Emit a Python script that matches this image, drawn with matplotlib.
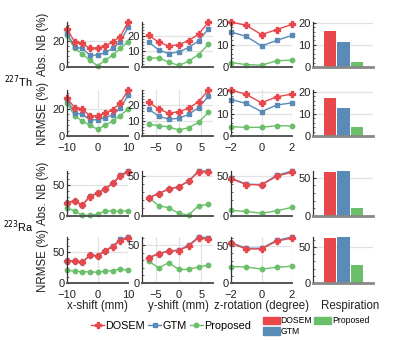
import matplotlib
matplotlib.use("Agg")
import matplotlib.pyplot as plt
from matplotlib.lines import Line2D
from matplotlib.patches import Patch
from matplotlib.ticker import AutoMinorLocator

plt.rcParams['font.family'] = ['Liberation Sans', 'DejaVu Sans']
plt.rcParams['font.size'] = 8

# colours of the three methods
RED, BLUE, GREEN = '#e8474c', '#5a8ab6', '#6cbf6a'

# x positions of the motion experiments
x_shift = [-10, -7.5, -5, -2.5, 0, 2.5, 5, 7.5, 10]
y_shift = [-6.6, -4.4, -2.2, 0, 2.2, 4.4, 6.6]
z_rot = [-2, -1, 0, 1, 2]

# 227Th, Abs. NB (%)
th_nb_x_dosem = [29, 19, 18, 14, 14.5, 16, 19, 23, 34]
th_nb_x_gtm = [26, 15, 14, 9, 9, 11, 14, 19, 30]
th_nb_x_prop = [24, 14, 10, 5, 1, 5, 9, 14, 19]
th_nb_y_dosem = [20.4, 16, 13.5, 14.4, 17, 21, 29]
th_nb_y_gtm = [16, 11, 8.6, 9.7, 12.5, 16.8, 24.7]
th_nb_y_prop = [5.8, 5.8, 3.2, 1, 3.7, 8, 14.6]
th_nb_z_dosem = [20.3, 18.8, 14.6, 16.9, 19.2]
th_nb_z_gtm = [15.8, 13.8, 9.5, 12, 14.3]
th_nb_z_prop = [2, 1.1, 0.8, 2.8, 3.1]
th_nb_resp = [16.4, 11.5, 2.4]

# 227Th, NRMSE (%)
th_rm_x_dosem = [28, 21, 20, 15, 15, 17, 19.5, 24.5, 34]
th_rm_x_gtm = [27, 17, 16, 12, 12, 13.6, 15.6, 20.5, 30]
th_rm_x_prop = [24.5, 15, 11, 8, 5, 8, 11, 15, 20]
th_rm_y_dosem = [22, 17.6, 14.8, 15.9, 18, 22.4, 30]
th_rm_y_gtm = [17.4, 13, 10.9, 11.5, 14.1, 18.5, 26]
th_rm_y_prop = [7.6, 6.7, 6, 3.9, 5.4, 8.9, 15.4]
th_rm_z_dosem = [20.8, 18.8, 15, 17.7, 19]
th_rm_z_gtm = [16.5, 14.7, 11, 14, 15]
th_rm_z_prop = [4.2, 3.9, 3.9, 4.7, 4.5]
th_rm_resp = [17.1, 12.7, 4.1]

# 223Ra, Abs. NB (%)
ra_nb_x_dosem = [21.5, 24.5, 17.5, 31, 37, 43.5, 52.5, 64, 71]
ra_nb_x_gtm = [21.5, 24.5, 17.5, 31.5, 37, 44, 53, 65.5, 72.5]
ra_nb_x_prop = [13.4, 8, 1, 1, 3, 8, 8, 7.5, 8.6]
ra_nb_y_dosem = [22.7, 28, 33.5, 36.4, 43.4, 55, 55]
ra_nb_y_gtm = [22.7, 28, 33.5, 36.4, 43.4, 56, 56]
ra_nb_y_prop = [22.7, 12.8, 10.3, 3.3, 1.2, 12.8, 14.5]
ra_nb_z_dosem = [47, 39.5, 39, 50, 55]
ra_nb_z_gtm = [47.5, 40, 39.5, 51, 56.5]
ra_nb_z_prop = [7, 5.7, 3.5, 6.5, 10.9]
ra_nb_resp = [57.8, 58.7, 10]

# 223Ra, NRMSE (%)
ra_rm_x_dosem = [35.5, 35.5, 33, 44.5, 43.5, 51.5, 58.5, 68, 72.5]
ra_rm_x_gtm = [35.5, 36, 33.5, 45, 44, 52, 59.5, 70, 74]
ra_rm_x_prop = [20.5, 19, 18, 18, 17.4, 19, 20, 22.5, 20.5]
ra_rm_y_dosem = [33.5, 38.8, 42.4, 43, 49, 60, 58]
ra_rm_y_gtm = [33.5, 39, 42.6, 43.5, 50, 61, 60]
ra_rm_y_prop = [29, 20, 27, 18, 18, 21.4, 23.7]
ra_rm_z_dosem = [53, 45.5, 45.5, 56, 60]
ra_rm_z_gtm = [54, 46.5, 46.5, 57, 61.5]
ra_rm_z_prop = [22, 21.4, 18.6, 21, 22.4]
ra_rm_resp = [63, 64, 24.8]

methods = ['DOSEM', 'GTM', 'Proposed']

W, H = 399, 342
fig = plt.figure(figsize=(W / 100, H / 100), dpi=100)


def ax_at(l, t, r, b):
    return fig.add_axes([l / W, 1 - b / H, (r - l) / W, (b - t) / H])


def style(ax, yticks, xgrid):
    for s in ['top', 'right']:
        ax.spines[s].set_visible(False)
    ax.spines['left'].set_color('#333333')
    ax.spines['left'].set_linewidth(0.9)
    ax.spines['bottom'].set_color('#555555')
    ax.spines['bottom'].set_linewidth(1.4)
    ax.set_yticks(yticks)
    ax.yaxis.set_minor_locator(AutoMinorLocator(5))
    ax.tick_params(axis='y', which='major', direction='in', length=2, pad=1.5,
                   labelsize=8, colors='#333333', labelcolor='#222222')
    ax.tick_params(axis='y', which='minor', direction='in', length=1.5, color='#555555')
    ax.tick_params(axis='x', length=0, pad=5, labelsize=8, labelcolor='#222222')
    ax.grid(axis='y', color='#e2e2e2', linewidth=0.9)
    if xgrid:
        ax.grid(axis='x', color='#e2e2e2', linewidth=0.9)
    ax.set_axisbelow(True)


def lines(ax, x, dosem, gtm, prop, xlim, xticks, yticks, show_x, xgrid):
    ax.plot(x, prop, '-o', color=GREEN, lw=1.0, ms=3.2, clip_on=False)
    ax.plot(x, gtm, '-s', color=BLUE, lw=1.0, ms=2.9, clip_on=False)
    ax.plot(x, dosem, '-P', color=RED, lw=1.0, ms=3.8, clip_on=False)
    ax.set_xlim(*xlim)
    ax.set_ylim(0, max(max(dosem), max(gtm), max(prop)))
    ax.set_xticks(xticks)
    if not show_x:
        ax.set_xticklabels([])
    style(ax, yticks, xgrid)


def bars(ax, vals, ytop, yticks):
    ax.bar([0, 1, 2], vals, width=0.92, color=[RED, BLUE, GREEN])
    ax.set_xlim(-1.26, 3.2)
    ax.set_ylim(0, ytop)
    ax.set_xticks([])
    style(ax, yticks, False)
    ax.spines['bottom'].set_color('#888888')
    ax.spines['bottom'].set_linewidth(2)


rows = [(22, 67), (90, 136), (171, 216), (237, 283)]
cols = [(67, 128), (142, 213), (231, 292), (313, 373)]

panels = [
    (th_nb_x_dosem, th_nb_x_gtm, th_nb_x_prop, th_nb_y_dosem, th_nb_y_gtm, th_nb_y_prop,
     th_nb_z_dosem, th_nb_z_gtm, th_nb_z_prop, th_nb_resp, [0, 20], [0, 10, 20], False),
    (th_rm_x_dosem, th_rm_x_gtm, th_rm_x_prop, th_rm_y_dosem, th_rm_y_gtm, th_rm_y_prop,
     th_rm_z_dosem, th_rm_z_gtm, th_rm_z_prop, th_rm_resp, [0, 20], [0, 10, 20], True),
    (ra_nb_x_dosem, ra_nb_x_gtm, ra_nb_x_prop, ra_nb_y_dosem, ra_nb_y_gtm, ra_nb_y_prop,
     ra_nb_z_dosem, ra_nb_z_gtm, ra_nb_z_prop, ra_nb_resp, [0, 50], [0, 50], False),
    (ra_rm_x_dosem, ra_rm_x_gtm, ra_rm_x_prop, ra_rm_y_dosem, ra_rm_y_gtm, ra_rm_y_prop,
     ra_rm_z_dosem, ra_rm_z_gtm, ra_rm_z_prop, ra_rm_resp, [0, 50], [0, 50], True),
]

for (t, b), p in zip(rows, panels):
    nrmse = p[12]
    ax = ax_at(cols[0][0], t, cols[0][1], b)
    lines(ax, x_shift, p[0], p[1], p[2], (-10, 10), [-10, 0, 10], p[10], nrmse, nrmse)
    ax = ax_at(cols[1][0], t, cols[1][1], b)
    lines(ax, y_shift, p[3], p[4], p[5], (-8.1, 7.6), [-5, 0, 5], p[11], nrmse, nrmse)
    ax = ax_at(cols[2][0], t, cols[2][1], b)
    lines(ax, z_rot, p[6], p[7], p[8], (-2, 2), [-2, 0, 2], p[11], nrmse, nrmse)
    ztop = ax.get_ylim()[1]
    ax = ax_at(cols[3][0], t, cols[3][1], b)
    bars(ax, p[9], max(ztop, max(p[9])), p[11])

# y labels and isotope labels
for (t, b), lab in zip(rows, ['Abs. NB (%)', 'NRMSE (%)', 'Abs. NB (%)', 'NRMSE (%)']):
    fig.text(43 / W, 1 - (t + b) / 2 / H, lab, rotation=90, ha='center', va='center',
             fontsize=8.3, color='#222222')
fig.text(4 / W, 1 - 82 / H, '$^{227}$Th', ha='left', va='center', fontsize=7.8)
fig.text(3 / W, 1 - 227 / H, '$^{223}$Ra', ha='left', va='center', fontsize=7.8)

# x labels
for xc, lab in zip([97, 178, 262, 350],
                   ['x-shift (mm)', 'y-shift (mm)', 'z-rotation (degree)', 'Respiration']):
    fig.text(xc / W, 1 - 306 / H, lab, ha='center', va='center', fontsize=8.3, color='#222222')

# legends
line_handles = [
    Line2D([], [], color=RED, marker='P', ms=3.8, lw=1.0),
    Line2D([], [], color=BLUE, marker='s', ms=2.9, lw=1.0),
    Line2D([], [], color=GREEN, marker='o', ms=3.2, lw=1.0),
]
fig.legend(line_handles, methods, loc='center', bbox_to_anchor=(171 / W, 1 - 326 / H),
           ncol=3, frameon=False, fontsize=7.8, handlelength=1.2, handletextpad=0.1,
           columnspacing=0.3, borderpad=0)

bar_handles = [Patch(color=RED), Patch(color=BLUE), Patch(color=GREEN)]
fig.legend(bar_handles, methods, loc='center', bbox_to_anchor=(316 / W, 1 - 326 / H),
           ncol=2, frameon=False, fontsize=6.2, handlelength=2.0, handleheight=1.0,
           handletextpad=0.1, columnspacing=0.2, labelspacing=0.15, borderpad=0)

plt.savefig('out.png', dpi=100)
